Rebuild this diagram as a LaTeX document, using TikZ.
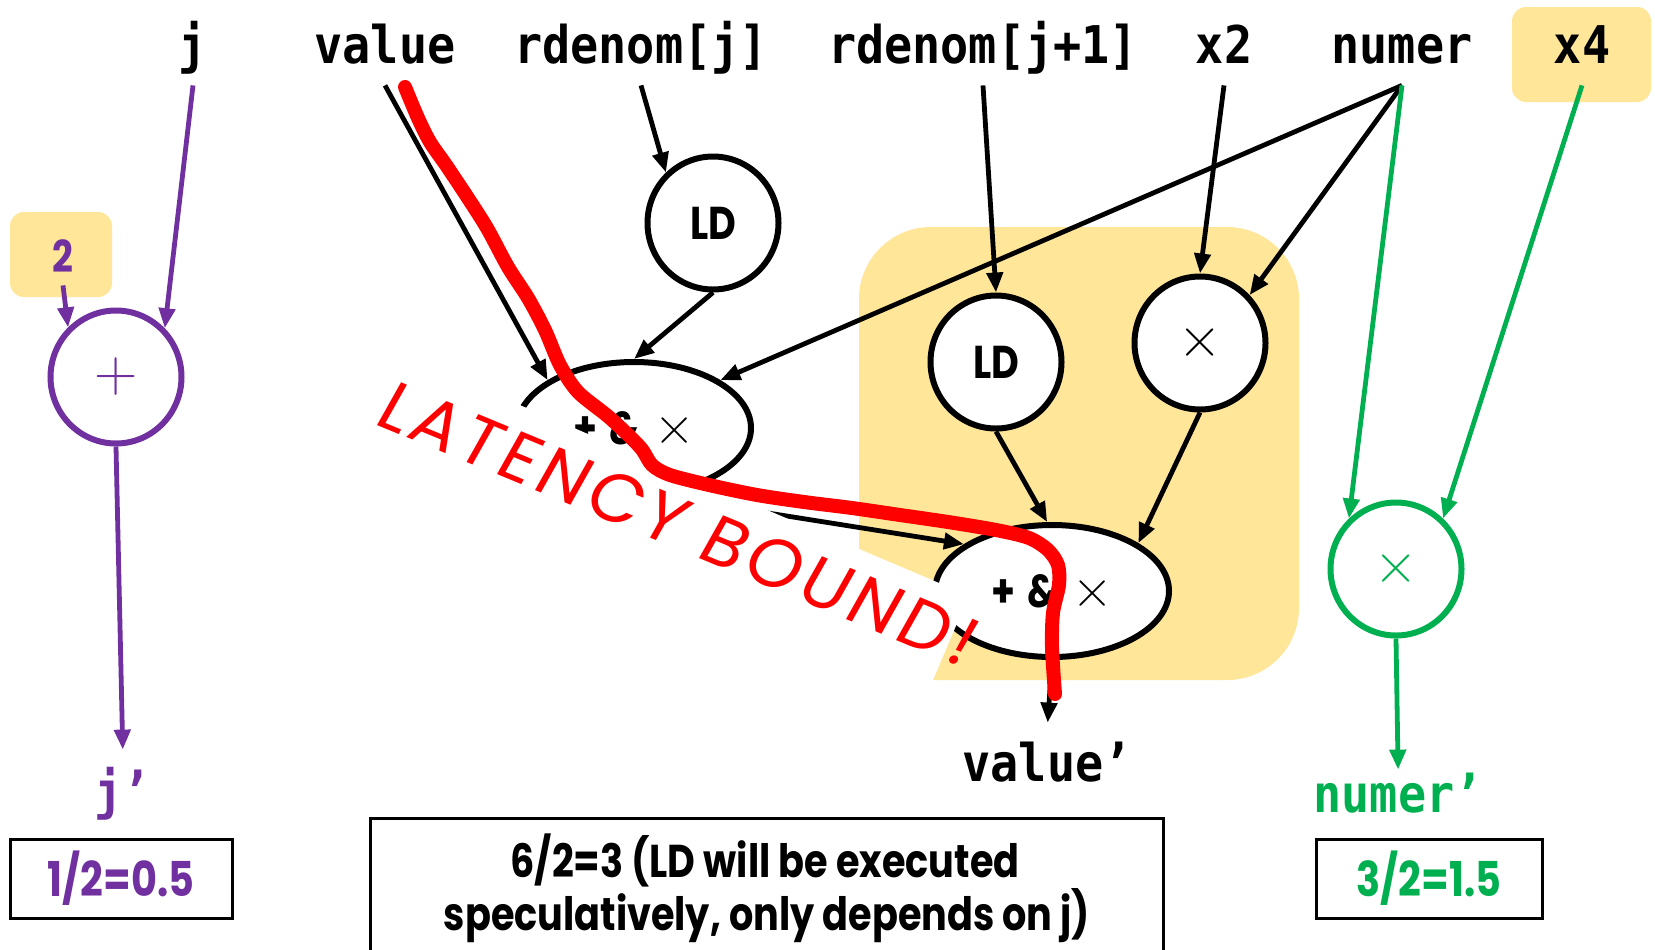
\documentclass[tikz,border=0pt]{standalone}
\usepackage{fontspec}
\usetikzlibrary{arrows.meta,shapes.geometric}
\newfontfamily\monof[FakeStretch=0.9]{DejaVu Sans Mono}
\newfontfamily\futf[FakeStretch=0.83]{Poppins}
\newfontfamily\handf[FakeSlant=0.12, LetterSpace=7]{Poppins}
\definecolor{ybg}{HTML}{FFE699}
\definecolor{ppl}{HTML}{7030A0}
\definecolor{grn}{HTML}{00B050}
\newcommand{\pmxsym}{{\futf\bfseries\fontsize{23pt}{26pt}\selectfont +\hspace{6pt}\&\hspace{7pt}}{\rmfamily\fontsize{28pt}{30pt}\selectfont ×}}
\begin{document}
\begin{tikzpicture}[x=0.5pt,y=-0.5pt,
  lbl/.style={font=\monof\bfseries\fontsize{26pt}{30pt}\selectfont, text height=19pt, text depth=6pt, inner sep=5pt},
  opn/.style={ellipse, draw, line width=3pt, fill=white, minimum width=65.5pt, minimum height=66.5pt, inner sep=0pt},
  eln/.style={opn, minimum width=117pt, minimum height=66pt},
  ldf/.style={font=\futf\bfseries\fontsize{23pt}{26pt}\selectfont},
  symf/.style={font=\rmfamily\fontsize{30pt}{32pt}\selectfont},
  arr/.style={line width=2.4pt, -{Triangle[length=10pt,width=8pt]}},
  parr/.style={arr, draw=ppl},
  garr/.style={arr, draw=grn},
  ybox/.style={fill=ybg, rounded corners=7pt, inner sep=0pt},
  rbox/.style={draw, line width=1.5pt, inner sep=0pt, font=\futf\bfseries\fontsize{24pt}{26pt}\selectfont},
  boxtxt/.style={font=\futf\bfseries\fontsize{23pt}{27pt}\selectfont, inner sep=0pt, anchor=base},
  redline/.style={draw=red, line width=7pt, line cap=round, line join=round},
  masksh/.style={fill=white},
  handtxt/.style={font=\handf\fontsize{35pt}{40pt}\selectfont, text=red, rotate=-22.5, anchor=base west, inner sep=0pt}
]
\useasboundingbox (0,0) rectangle (1655,949);
\fill[white] (0,0) rectangle (1655,949);

% yellow highlight region
\fill[ybg, rounded corners=36pt] (859,227) rectangle (1299,680);

% yellow boxes
\node[ybox, minimum width=51pt, minimum height=42.5pt] (b2) at (61,254.5) {};
\node[ybox, minimum width=69.5pt, minimum height=47.5pt] (bx4) at (1581.5,54.5) {};

% top labels
\node[lbl] (lj) at (193,50) {j};
\node[lbl] (lval) at (385,50) {value};
\node[lbl] (lrd) at (641,50) {rdenom[j]};
\node[lbl] (lrd1) at (983,50) {rdenom[j+1]};
\node[lbl] (lx2) at (1224,50) {x2};
\node[lbl] (lnum) at (1402,50) {numer};
\node[lbl] (lx4) at (1582,50) {x4};
\node[font=\futf\bfseries\fontsize{22pt}{24pt}\selectfont, text=ppl, text height=14.5pt, text depth=0pt, inner sep=6.5pt] (l2) at (63,257.5) {2};

% operation nodes
\node[opn, draw=ppl, text=ppl, symf] (plus) at (116,377) {+};
\node[opn, ldf] (ld1) at (713,223) {LD};
\node[eln] (e1) at (634,428) {\pmxsym};
\node[opn, ldf] (ld2) at (996,362) {LD};
\node[opn, symf] (mul) at (1200,343) {×};
\node[eln] (e2) at (1052,591) {\pmxsym};
\node[opn, draw=grn, text=grn, symf] (gmul) at (1396,569) {×};

% bottom labels
\node[lbl, text=ppl] (jp) at (123,796) {j’};
\node[lbl] (valp) at (1047,768) {value’};
\node[lbl, text=grn] (nump) at (1398,799) {numer’};

% result boxes
\node[rbox, text=ppl, minimum width=111pt, minimum height=39.5pt] (r1) at (121,878.5) {1/2=0.5};
\node[rbox, text=grn, minimum width=113pt, minimum height=39.5pt] (r2) at (1429,878.5) {3/2=1.5};
\node[draw, line width=1.5pt, minimum width=396.5pt, minimum height=71pt, inner sep=0pt] (rm) at (766.5,889) {};
\node[boxtxt] (t1) at (765,877) {6/2=3 (LD will be executed};
\node[boxtxt] (t2) at (767,930) {speculatively, only depends on j)};

% purple connectors
\draw[parr] (lj.south) -- (plus.45);
\draw[parr] (l2.south) -- (plus.134);
\draw[parr, shorten >=5.5pt] (plus.south) -- (jp.north);

% black connectors
\draw[arr] (lval.south) -- (e1.151);
\draw[arr] (lrd.south) -- (ld1.133);
\draw[arr] (ld1.south) -- (e1.north);
\draw[arr] (lnum.south) -- (e1.29);
\draw[arr] (lrd1.south) -- (ld2.north);
\draw[arr] (lx2.south) -- (mul.north);
\draw[arr] (lnum.south) -- (mul.44);
\draw[arr] (ld2.south) -- (e2.94);
\draw[arr] (mul.south) -- (e2.29);
\coordinate (a1) at (705,503);
\draw[arr] (a1) -- (e2.152);
\draw[arr, shorten >=5pt] (e2.south) -- (valp.north);

% green connectors
\draw[garr] (lnum.south) -- (gmul.133);
\draw[garr] (lx4.south) -- (gmul.47);
\draw[garr, shorten >=-3pt] (gmul.south) -- (nump.north);

% white mask behind the annotation
\fill[masksh] (324.4,322.1) -- (968.8,595.6) -- (918,715.3) -- (273.6,441.8) -- cycle;
\node[handtxt] (lat) at (372,423) {LATENCY BOUND!};

% red critical path
\draw[redline] plot[smooth, tension=0.5] coordinates {(405,87) (418,118) (430,142) (446,165) (466,195) (487,228) (508,267) (528,298) (545,330) (560,365) (578,392) (610,418) (640,447) (652,465) (670,475) (709,485) (757,495) (804,502) (852,508) (900,515) (948,522) (996,530) (1029,538) (1048,550) (1058,565) (1059,585) (1053,613) (1052,647) (1055,694)};
\end{tikzpicture}
\end{document}
